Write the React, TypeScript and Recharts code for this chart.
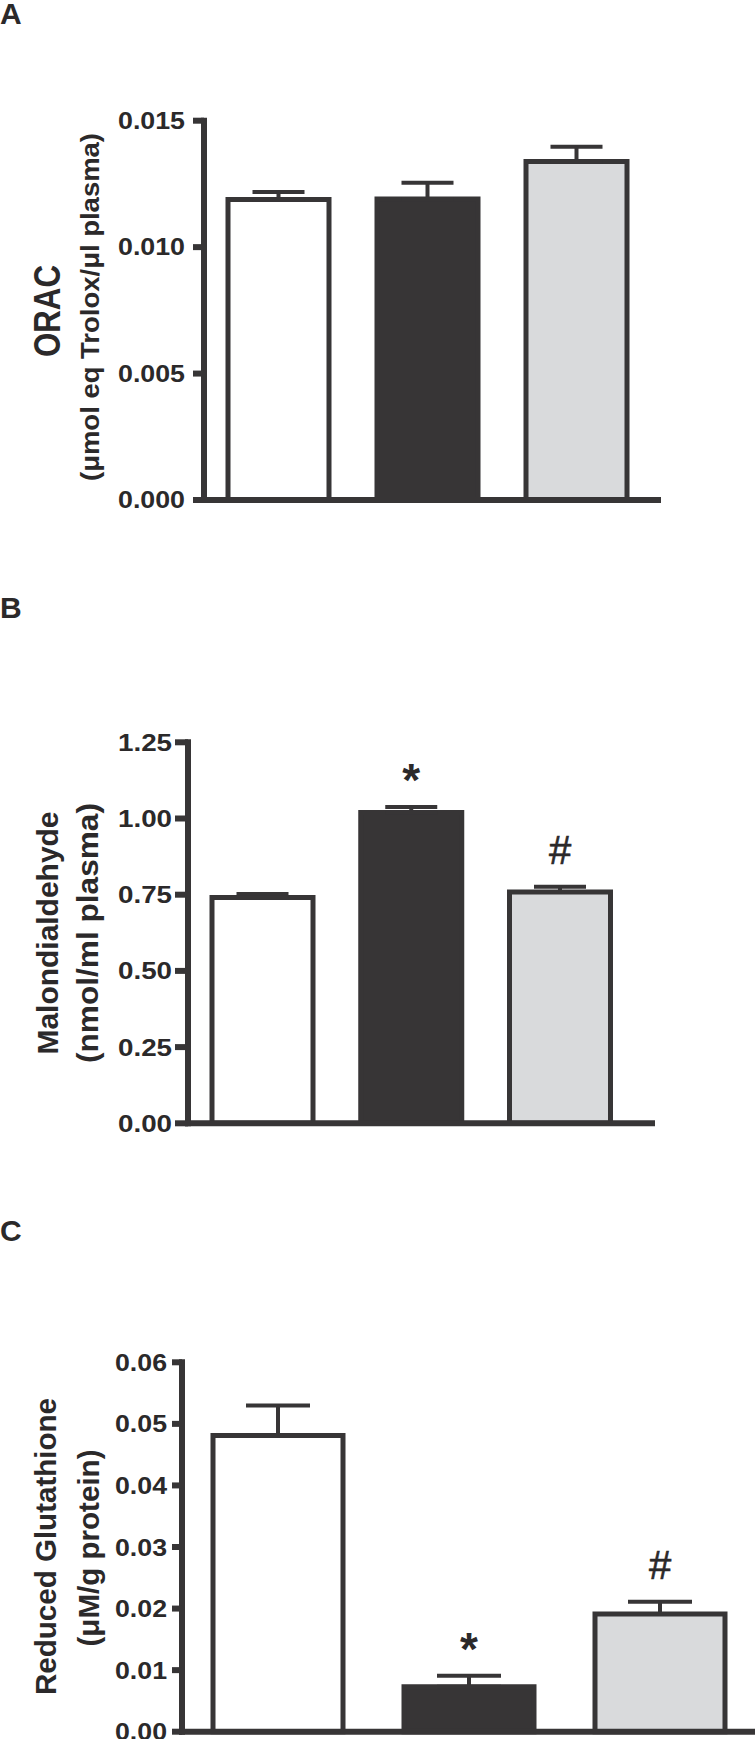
import React from 'react';
import { BarChart, Bar, XAxis, YAxis, ErrorBar, Cell, LabelList } from 'recharts';

// ---------- data ----------
const categories = ['Group 1', 'Group 2', 'Group 3'];
const barFills = ['#ffffff', '#373536', '#d9dadc'];

const oracValues = [0.01188, 0.0119, 0.01339];
const oracErrors = [0.0003, 0.00065, 0.00058];
const oracMarks = ['', '', ''];
const oracTicks = [0, 0.005, 0.01, 0.015];

const mdaValues = [0.741, 1.02, 0.759];
const mdaErrors = [0.011, 0.018, 0.017];
const mdaMarks = ['', '*', '#'];
const mdaTicks = [0, 0.25, 0.5, 0.75, 1.0, 1.25];

const gshValues = [0.0481, 0.0073, 0.0191];
const gshErrors = [0.0049, 0.0018, 0.002];
const gshMarks = ['', '*', '#'];
const gshTicks = [0, 0.01, 0.02, 0.03, 0.04, 0.05, 0.06];

const INK = '#373536';
const TEXT = '#2b292a';
const FONT = '"Liberation Sans", Arial, sans-serif';

type Row = { name: string; value: number; err: [number, number]; mark: string };

const buildRows = (values: number[], errors: number[], marks: string[]): Row[] =>
  categories.map((name, i) => ({ name, value: values[i], err: [0, errors[i]], mark: marks[i] }));

type LabelLine = { text: string; cx: number; cy: number; size: number; len: number };

type PanelProps = {
  letter: string;
  letterY: number;
  top: number;
  height: number;
  marginTop: number;
  marginBottom: number;
  marginRight: number;
  axisWidth: number;
  padRight: number;
  barSize: number;
  capHalf: number;
  tickSize: number;
  tickMargin: number;
  tickFont: number;
  tickLen: number;
  digits: number;
  ticks: number[];
  rows: Row[];
  lines: LabelLine[];
};

const makeTick = (digits: number, fontSize: number, len: number) => (props: any) => {
  const { x, y, payload } = props;
  return (
    <text
      x={x}
      y={y}
      textAnchor="end"
      dominantBaseline="central"
      fontSize={fontSize}
      fontWeight="bold"
      fontFamily={FONT}
      fill={TEXT}
      textLength={len}
      lengthAdjust="spacingAndGlyphs"
    >
      {Number(payload.value).toFixed(digits)}
    </text>
  );
};

const makeMark = (rows: Row[]) => (props: any) => {
  const { index, value } = props;
  if (!value) return null;
  const vb = props.viewBox || props;
  const row = rows[index];
  if (!row || !vb || !vb.height) return null;
  const pxPerUnit = vb.height / row.value;
  const ey = vb.y - row.err[1] * pxPerUnit;
  const cx = vb.x + vb.width / 2;
  const isStar = value === '*';
  return (
    <text
      x={cx}
      y={isStar ? ey - 11 : ey - 23}
      textAnchor="middle"
      fontSize={isStar ? 46 : 40}
      fontWeight={isStar ? 'bold' : 'normal'}
      fontFamily={FONT}
      fill={TEXT}
      stroke={isStar ? 'none' : TEXT}
      strokeWidth={isStar ? 0 : 0.6}
    >
      {value}
    </text>
  );
};

const makeAxisLabel = (letter: string, letterY: number, lines: LabelLine[]) => () => (
  <g>
    <text x={0} y={letterY} fontSize={30} fontWeight="bold" fontFamily={FONT} fill={TEXT}>
      {letter}
    </text>
    {lines.map((l, i) => (
      <text
        key={i}
        x={l.cx}
        y={l.cy}
        transform={`rotate(-90, ${l.cx}, ${l.cy})`}
        textAnchor="middle"
        dominantBaseline="central"
        fontSize={l.size}
        fontWeight="bold"
        fontFamily={FONT}
        fill={TEXT}
        textLength={l.len}
        lengthAdjust="spacingAndGlyphs"
      >
        {l.text}
      </text>
    ))}
  </g>
);

const Panel = (p: PanelProps) => (
  <div style={{ position: 'absolute', left: 0, top: p.top }}>
    <BarChart
      width={755}
      height={p.height}
      data={p.rows}
      margin={{ top: p.marginTop, right: p.marginRight, bottom: p.marginBottom, left: 0 }}
    >
      <XAxis
        dataKey="name"
        tick={false}
        tickLine={false}
        height={2}
        padding={{ left: 0, right: p.padRight }}
        axisLine={{ stroke: INK, strokeWidth: 6, strokeLinecap: 'square' }}
      />
      <YAxis
        type="number"
        domain={[p.ticks[0], p.ticks[p.ticks.length - 1]]}
        ticks={p.ticks}
        interval={0}
        width={p.axisWidth}
        tickSize={p.tickSize}
        tickMargin={p.tickMargin}
        tickLine={{ stroke: INK, strokeWidth: 6 }}
        axisLine={{ stroke: INK, strokeWidth: 6, strokeLinecap: 'square' }}
        tick={makeTick(p.digits, p.tickFont, p.tickLen)}
        label={makeAxisLabel(p.letter, p.letterY, p.lines)}
      />
      <Bar dataKey="value" barSize={p.barSize} stroke={INK} strokeWidth={5} isAnimationActive={false}>
        {p.rows.map((_, i) => (
          <Cell key={i} fill={barFills[i]} />
        ))}
        <ErrorBar dataKey="err" width={p.capHalf} strokeWidth={4} stroke={INK} direction="y" isAnimationActive={false} />
        <LabelList dataKey="mark" content={makeMark(p.rows)} />
      </Bar>
    </BarChart>
  </div>
);

export default function App() {
  return (
    <div
      style={{
        position: 'absolute',
        left: 0,
        top: 0,
        width: 755,
        height: 1739,
        overflow: 'hidden',
        background: '#ffffff',
      }}
    >
      <Panel
        letter="A"
        letterY={24}
        top={0}
        height={540}
        marginTop={120.7}
        marginBottom={38}
        marginRight={97}
        axisWidth={204}
        padRight={7}
        barSize={101}
        capHalf={26}
        tickSize={11}
        tickMargin={8}
        tickFont={23}
        tickLen={67}
        digits={3}
        ticks={oracTicks}
        rows={buildRows(oracValues, oracErrors, oracMarks)}
        lines={[
          { text: 'ORAC', cx: 47, cy: 311, size: 36, len: 92 },
          { text: '(μmol eq Trolox/μl plasma)', cx: 90, cy: 307, size: 26, len: 348 },
        ]}
      />
      <Panel
        letter="B"
        letterY={58}
        top={560}
        height={600}
        marginTop={182.3}
        marginBottom={34.7}
        marginRight={103}
        axisWidth={188}
        padRight={17.75}
        barSize={101}
        capHalf={26}
        tickSize={13}
        tickMargin={3}
        tickFont={24}
        tickLen={54}
        digits={2}
        ticks={mdaTicks}
        rows={buildRows(mdaValues, mdaErrors, mdaMarks)}
        lines={[
          { text: 'Malondialdehyde', cx: 47.5, cy: 373, size: 29, len: 243 },
          { text: '(nmol/ml plasma)', cx: 88, cy: 373, size: 29, len: 260 },
        ]}
      />
      <Panel
        letter="C"
        letterY={81}
        top={1160}
        height={579}
        marginTop={202.3}
        marginBottom={5.3}
        marginRight={0}
        axisWidth={182}
        padRight={0}
        barSize={130}
        capHalf={32}
        tickSize={10}
        tickMargin={5}
        tickFont={24}
        tickLen={52}
        digits={2}
        ticks={gshTicks}
        rows={buildRows(gshValues, gshErrors, gshMarks)}
        lines={[
          { text: 'Reduced Glutathione', cx: 45, cy: 386.5, size: 30, len: 297 },
          { text: '(μM/g protein)', cx: 89, cy: 388, size: 29, len: 197 },
        ]}
      />
    </div>
  );
}
